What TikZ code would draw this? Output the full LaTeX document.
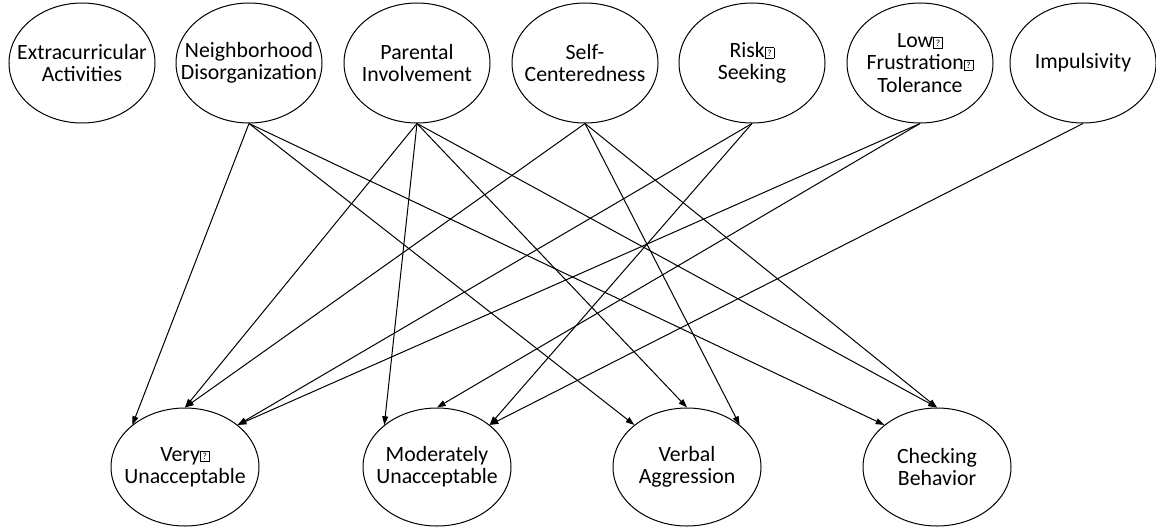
\documentclass[tikz,border=0pt]{standalone}
\usepackage{fontspec}
\setmainfont{Carlito}
\usetikzlibrary{arrows.meta,shapes.geometric}
\newcommand\qbx{{\setlength\fboxsep{0pt}\setlength\fboxrule{0.5pt}\fbox{\makebox[6.2pt]{\rule{0pt}{7.2pt}\raisebox{1pt}{\fontsize{7}{7}\selectfont ?}}}}}
\begin{document}
\begin{tikzpicture}[x=0.75pt,y=-0.75pt,
  var/.style={draw, ellipse, line width=0.75pt, minimum width=109.5pt, minimum height=90pt, inner sep=0pt},
  dep/.style={var, minimum width=111pt, minimum height=88.5pt},
  lbl/.style={font=\fontsize{16.35}{16.7}\selectfont, align=center, inner sep=0pt},
  link/.style={line width=0.75pt, -{Triangle[length=6.5pt,width=4.5pt]}}]
\useasboundingbox (0,0) rectangle (1156,529);
% top row
\node[var] (extra) at (82,63) {};
\node[var] (neigh) at (249,63) {};
\node[var] (par)   at (417,63) {};
\node[var] (self)  at (585,63) {};
\node[var] (risk)  at (752,63) {};
\node[var] (low)   at (920,63) {};
\node[var] (imp)   at (1083,63) {};
\node[lbl] (extraT) at (extra.center) {Extracurricular\\Activities};
\node[lbl] (neighT) at (neigh.center) {Neighborhood\\Disorganization};
\node[lbl] (parT)   at (par.center)   {Parental\\Involvement};
\node[lbl] (selfT)  at (self.center)  {Self-\\Centeredness};
\node[lbl] (riskT)  at (risk.center)  {Risk\qbx\\Seeking};
\node[lbl] (lowT)   at (low.center)   {Low\qbx\\Frustration\qbx\\Tolerance};
\node[lbl] (impT)   at (imp.center)   {Impulsivity};
% bottom row
\node[dep] (very)  at (185,467) {};
\node[dep] (mod)   at (437,467) {};
\node[dep] (verb)  at (687,467) {};
\node[dep] (check) at (937,467) {};
\node[lbl] (veryT)  at (very.center)  {Very\qbx\\Unacceptable};
\node[lbl] (modT)   at (mod.center)   {Moderately\\Unacceptable};
\node[lbl] (verbT)  at (verb.center)  {Verbal\\Aggression};
\node[lbl] (checkT) at (check.center) {Checking\\Behavior};
% connectors
\draw[link] (neigh.south) -- (very.north west);
\draw[link] (neigh.south) -- (verb.north west);
\draw[link] (neigh.south) -- (check.north west);
\draw[link] (par.south) -- (very.north);
\draw[link] (par.south) -- (mod.north west);
\draw[link] (par.south) -- (verb.north);
\draw[link] (par.south) -- (check.north);
\draw[link] (self.south) -- (very.north);
\draw[link] (self.south) -- (verb.north east);
\draw[link] (self.south) -- (check.north);
\draw[link] (risk.south) -- (very.north east);
\draw[link] (risk.south) -- (mod.north east);
\draw[link] (low.south) -- (very.north east);
\draw[link] (low.south) -- (mod.north);
\draw[link] (imp.south) -- (mod.north east);
\end{tikzpicture}
\end{document}
